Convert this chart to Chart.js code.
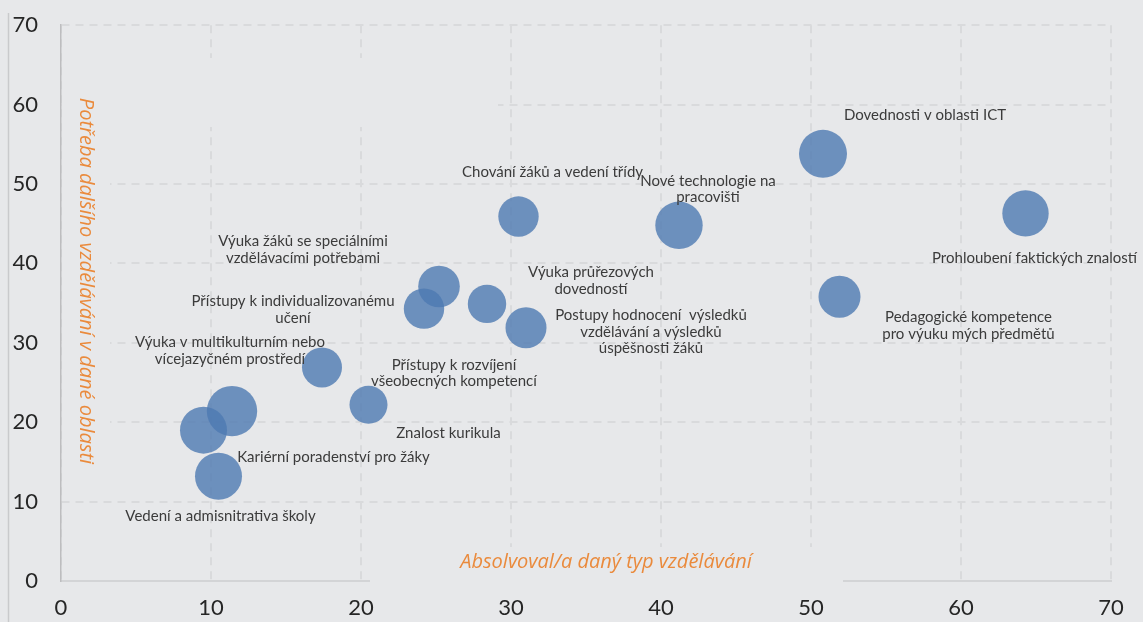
<!DOCTYPE html>
<html>
<head>
<meta charset="utf-8">
<script src="https://cdn.jsdelivr.net/npm/chart.js@4.4.0/dist/chart.umd.min.js"></script>
<style>
    html, body { margin: 0; padding: 0; background: #e7e8ea; }
    #wrap { width: 1143px; height: 622px; }
</style>
</head>
<body>
<div id="wrap"><canvas id="bubbleChart" width="1143" height="622"></canvas></div>
<script>
// Oblasti vzdělávání (popisky bublin)
const areaLabels = [
    ['Dovednosti v oblasti ICT'],
    ['Prohloubení faktických znalostí'],
    ['Pedagogické kompetence', 'pro výuku mých předmětů'],
    ['Nové technologie na', 'pracovišti'],
    ['Chování žáků a vedení třídy'],
    ['Výuka průřezových', 'dovedností'],
    ['Postupy hodnocení  výsledků', 'vzdělávání a výsledků', 'úspěšnosti žáků'],
    ['Výuka žáků se speciálními', 'vzdělávacími potřebami'],
    ['Přístupy k individualizovanému', 'učení'],
    ['Znalost kurikula'],
    ['Výuka v multikulturním nebo', 'vícejazyčném prostředí'],
    ['Přístupy k rozvíjení', 'všeobecných kompetencí'],
    ['Kariérní poradenství pro žáky'],
    ['Vedení a admisnitrativa školy']
];

// Absolvoval/a daný typ vzdělávání (%)
const completedValues = [50.8, 64.3, 51.9, 41.2, 30.5, 28.4, 31.0, 25.2, 24.2, 20.5, 17.4, 11.4, 9.5, 10.5];
// Potřeba dalšího vzdělávání (%)
const needValues = [53.8, 46.3, 35.8, 44.8, 45.9, 34.9, 31.9, 37.1, 34.3, 22.2, 26.9, 21.4, 19.0, 13.2];
// Velikost bubliny
const bubbleSizes = [24, 23.2, 21, 23.7, 20.2, 19.2, 20.5, 20.8, 20.2, 19, 20, 25.2, 23.5, 23.5];

const axisTicks = [0, 10, 20, 30, 40, 50, 60, 70];

// posun popisků vůči středu bubliny (px)
const labelOffsets = [
    [102, -39], [9, 45], [129, 29], [29, -36], [34, -44], [104, -23], [125, 4],
    [-136, -37], [-131, 1], [80, 28], [-92, -17], [222, -38], [130, 27], [2, 40]
];

const bgColor = '#e7e8ea';
const textFont = 'Lato, "DejaVu Sans", sans-serif';
const titleFont = '"Open Sans", Lato, sans-serif';

const points = completedValues.map((x, i) => ({ x: x, y: needValues[i], r: bubbleSizes[i] }));

// pozadí, rámeček a zakrytí mřížky pod popisky os
const decorPlugin = {
    id: 'decor',
    beforeDraw(chart) {
        const ctx = chart.ctx;
        ctx.save();
        ctx.fillStyle = bgColor;
        ctx.fillRect(0, 0, chart.width, chart.height);
        ctx.strokeStyle = '#c9cacc';
        ctx.lineWidth = 1.5;
        ctx.beginPath();
        ctx.moveTo(8.5, 13);
        ctx.lineTo(8.5, chart.height);
        ctx.stroke();
        ctx.restore();
    },
    beforeDatasetsDraw(chart) {
        const ctx = chart.ctx;
        const a = chart.chartArea;
        ctx.save();
        ctx.fillStyle = bgColor;
        ctx.fillRect(a.left + 1, 58, 48, 412);
        ctx.fillRect(a.left + 1, 58, 436, 69);
        ctx.fillRect(370, 547, 473, 44);
        // názvy os
        ctx.fillStyle = '#ea8a3c';
        ctx.font = 'italic 20px ' + titleFont;
        ctx.textAlign = 'center';
        ctx.textBaseline = 'middle';
        ctx.fillText('Absolvoval/a daný typ vzdělávání', 606, 562);
        ctx.translate(86, 281);
        ctx.rotate(Math.PI / 2);
        ctx.fillText('Potřeba dalšího vzdělávání v dané oblasti', 0, 0);
        ctx.restore();
    },
    afterDatasetsDraw(chart) {
        const ctx = chart.ctx;
        const meta = chart.getDatasetMeta(0);
        ctx.save();
        ctx.fillStyle = '#3b3b3b';
        ctx.font = '15px ' + textFont;
        ctx.textAlign = 'center';
        ctx.textBaseline = 'middle';
        meta.data.forEach((el, i) => {
            const lines = areaLabels[i];
            const lh = 16.5;
            const cx = el.x + labelOffsets[i][0];
            const cy = el.y + labelOffsets[i][1] - (lines.length - 1) * lh / 2;
            lines.forEach((t, j) => ctx.fillText(t, cx, cy + j * lh));
        });
        ctx.restore();
    }
};

const ctx = document.getElementById('bubbleChart').getContext('2d');
new Chart(ctx, {
    type: 'bubble',
    data: {
        datasets: [{
            label: 'Oblasti',
            data: points,
            backgroundColor: 'rgba(78, 121, 178, 0.8)',
            borderWidth: 0,
            hoverRadius: 0
        }]
    },
    options: {
        responsive: false,
        animation: false,
        layout: { padding: { top: 25, right: 32, left: 0, bottom: 0 } },
        plugins: {
            legend: { display: false },
            tooltip: { enabled: false }
        },
        scales: {
            x: {
                type: 'linear',
                min: 0,
                max: 70,
                afterFit: (scale) => {
                    scale.height = 41;
                    scale.paddingLeft = 0;
                    scale.paddingRight = 0;
                },
                afterBuildTicks: (scale) => { scale.ticks = axisTicks.map(v => ({ value: v })); },
                ticks: {
                    padding: 14,
                    color: '#262626',
                    font: { family: textFont, size: 22 }
                },
                grid: { color: '#d9dadc', lineWidth: 2, drawTicks: false },
                border: { display: true, color: '#d3d4d6', width: 2, dash: [8, 6] }
            },
            y: {
                type: 'linear',
                min: 0,
                max: 70,
                afterFit: (scale) => {
                    scale.width = 61;
                    scale.paddingTop = 0;
                    scale.paddingBottom = 0;
                },
                afterBuildTicks: (scale) => { scale.ticks = axisTicks.map(v => ({ value: v })); },
                ticks: {
                    padding: 23,
                    color: '#262626',
                    font: { family: textFont, size: 22 }
                },
                grid: { color: '#d9dadc', lineWidth: 2, drawTicks: false },
                border: { display: true, color: '#bdbdbf', width: 1.5, dash: [8, 6] }
            }
        }
    },
    plugins: [decorPlugin]
});
</script>
</body>
</html>
